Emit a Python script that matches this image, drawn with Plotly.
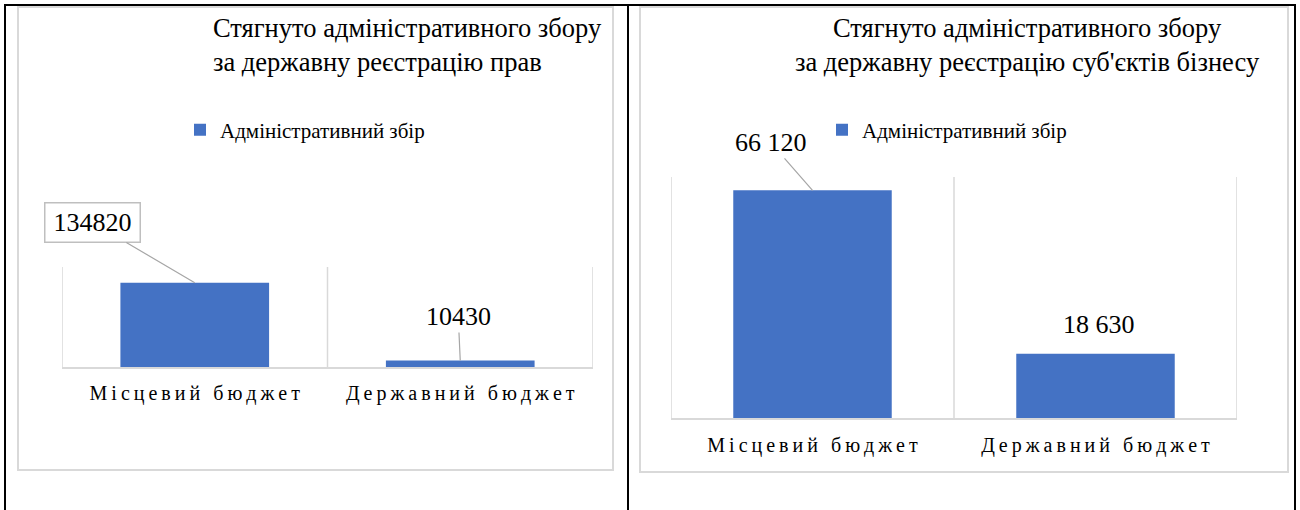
import plotly.graph_objects as go

# ---------------- data ----------------
categories = ["Місцевий бюджет", "Державний бюджет"]
series_name = "Адміністративний збір"
rights_values = [134820, 10430]        # left chart
business_values = [66120, 18630]       # right chart
title_left = "Стягнуто адміністративного збору<br>за державну реєстрацію прав"
title_right = "Стягнуто адміністративного збору<br>за державну реєстрацію суб'єктів бізнесу"
left_range = [0, 160000]
right_range = [0, 70000]

W, H = 1300, 510
BLUE = "#4472C4"
GRID = "#d9d9d9"
FONT = "Liberation Serif, Times New Roman, DejaVu Serif, serif"


def px(x):
    return x / W


def py(y):
    return 1 - y / H


def spaced(s):
    return "\u2009".join(s)


tick_text = [spaced(c) for c in categories]

fig = go.Figure()
fig.add_trace(go.Bar(x=categories, y=rights_values, name=series_name,
                     marker=dict(color=BLUE, line=dict(width=0)),
                     xaxis="x", yaxis="y", legend="legend", showlegend=True,
                     hoverinfo="x+y"))
fig.add_trace(go.Bar(x=categories, y=business_values, name=series_name,
                     marker=dict(color=BLUE, line=dict(width=0)),
                     xaxis="x2", yaxis="y2", legend="legend2", showlegend=True,
                     hoverinfo="x+y"))

axis_common = dict(type="category", showgrid=False, zeroline=False,
                   showline=True, linecolor=GRID, linewidth=1.5,
                   range=[-0.5, len(categories) - 0.5], autorange=False,
                   ticks="", tickfont=dict(family=FONT, size=20, color="#000000"),
                   tickmode="array", tickvals=categories, ticktext=tick_text,
                   fixedrange=True)

fig.update_layout(
    width=W, height=H,
    margin=dict(l=0, r=0, t=0, b=0),
    paper_bgcolor="white", plot_bgcolor="white",
    bargap=0.44,
    font=dict(family=FONT, color="#000000"),
    xaxis=dict(domain=[px(62), px(593)], anchor="y", ticklabelstandoff=7,
               **axis_common),
    yaxis=dict(domain=[py(367), py(267)], anchor="x", range=left_range,
               visible=False, fixedrange=True),
    xaxis2=dict(domain=[px(671), px(1237)], anchor="y2", ticklabelstandoff=8,
                **axis_common),
    yaxis2=dict(domain=[py(418), py(177)], anchor="x2", range=right_range,
                visible=False, fixedrange=True),
    legend=dict(x=px(180), y=py(130), xanchor="left", yanchor="middle",
                font=dict(family=FONT, size=21, color="#000000"),
                bgcolor="rgba(0,0,0,0)", itemwidth=30),
    legend2=dict(x=px(822), y=py(130), xanchor="left", yanchor="middle",
                 font=dict(family=FONT, size=21, color="#000000"),
                 bgcolor="rgba(0,0,0,0)", itemwidth=30),
)

# category separator gridlines (Excel-style vertical gridlines)
for xa, ya in (("x", "y"), ("x2", "y2")):
    for b in (-0.5, 0.5, 1.5):
        fig.add_shape(type="line", xref=xa, yref=ya + " domain",
                      x0=b, x1=b, y0=0, y1=1,
                      line=dict(color=GRID, width=1.5), layer="below")

# chart-area borders (light gray) and table borders (black)
fig.add_shape(type="rect", xref="paper", yref="paper",
              x0=px(18), x1=px(613), y0=py(470), y1=py(7),
              line=dict(color=GRID, width=2), layer="below")
fig.add_shape(type="rect", xref="paper", yref="paper",
              x0=px(640), x1=px(1288), y0=py(472), y1=py(7),
              line=dict(color=GRID, width=2), layer="below")
for x0, y0, x1, y1 in ((4, 5, 1296, 5), (5, 5, 5, 510), (628, 5, 628, 510),
                       (1295, 5, 1295, 510)):
    fig.add_shape(type="line", xref="paper", yref="paper",
                  x0=px(x0), x1=px(x1), y0=py(y0), y1=py(y1),
                  line=dict(color="#000000", width=2))

# titles
fig.add_annotation(xref="paper", yref="paper", x=px(211), y=py(45),
                   xanchor="left", yanchor="middle", align="left",
                   text=title_left, showarrow=False,
                   font=dict(family=FONT, size=26.5, color="#000000"))
fig.add_annotation(xref="paper", yref="paper", x=px(1027), y=py(45),
                   xanchor="center", yanchor="middle", align="center",
                   text=title_right, showarrow=False,
                   font=dict(family=FONT, size=26.5, color="#000000"))

# data labels
lab_font = dict(family=FONT, size=26, color="#000000")
fig.add_annotation(xref="x", yref="y", x=categories[0], y=rights_values[0],
                   text=str(rights_values[0]), showarrow=True, arrowhead=0,
                   arrowwidth=1.2, arrowcolor="#a6a6a6", ax=-102, ay=-60,
                   bordercolor="#bfbfbf", borderwidth=1.5, borderpad=4,
                   bgcolor="white", width=86, height=30, font=lab_font)
fig.add_annotation(xref="x", yref="y", x=categories[1], y=rights_values[1],
                   text=str(rights_values[1]), showarrow=True, arrowhead=0,
                   arrowwidth=1.2, arrowcolor="#a6a6a6", ax=-2, ay=-44,
                   font=lab_font)


def fmt(v):
    return f"{v:,}".replace(",", " ")


fig.add_annotation(xref="x2", yref="y2", x=categories[0], y=business_values[0],
                   text=fmt(business_values[0]), showarrow=True, arrowhead=0,
                   arrowwidth=1.2, arrowcolor="#a6a6a6", ax=-42, ay=-48,
                   font=lab_font)
fig.add_annotation(xref="x2", yref="y2", x=categories[1], y=business_values[1],
                   text=fmt(business_values[1]), showarrow=False,
                   yshift=29, xshift=3, font=lab_font)

fig.write_html("out.html",
               config={"displayModeBar": False},
               post_script="document.body.style.margin='0';"
                           "document.body.style.overflow='hidden';")
